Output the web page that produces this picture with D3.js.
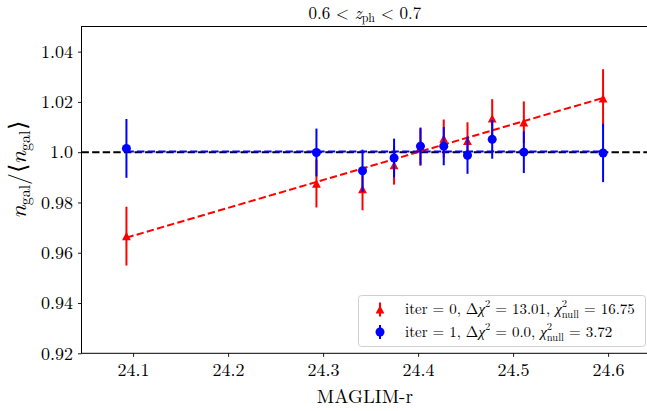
<!DOCTYPE html>
<html>
<head>
<meta charset="utf-8">
<script src="https://cdn.jsdelivr.net/npm/d3@7"></script>
<style>
  body { margin: 0; background: #fff; }
</style>
</head>
<body>
<svg id="chart"></svg>
<script>
// magnitude limit bins
const magVals = [24.093, 24.293, 24.3415, 24.3747, 24.4025, 24.427, 24.452, 24.478, 24.5113, 24.5947];
// iter = 0 (red triangles)
const iter0Vals = [0.9666, 0.9875, 0.9853, 0.9948, 1.0020, 1.0054, 1.0045, 1.0134, 1.0119, 1.0214];
// iter = 1 (blue circles)
const iter1Vals = [1.0015, 0.9999, 0.9926, 0.9977, 1.0024, 1.0024, 0.9988, 1.0051, 1.0000, 0.9997];
const errVals = [0.0117, 0.0095, 0.0084, 0.0077, 0.0074, 0.0076, 0.0074, 0.0077, 0.0083, 0.0116];
// linear fits (end points)
const fit0X = [24.093, 24.5947];
const fit0Y = [0.9660, 1.0216];
const fit1X = [24.093, 24.5947];
const fit1Y = [1.0003, 1.0003];

const xTicks = [24.1, 24.2, 24.3, 24.4, 24.5, 24.6];
const yTicks = [0.92, 0.94, 0.96, 0.98, 1.0, 1.02, 1.04];
const yTickLabels = ["0.92", "0.94", "0.96", "0.98", "1.0", "1.02", "1.04"];

const FONT = '"Latin Modern Roman", "Liberation Serif", serif';
const W = 647, H = 411;
const plot = {left: 81.5, right: 648.2, top: 26.5, bottom: 353.3};

const svg = d3.select("#chart").attr("width", W).attr("height", H)
    .style("font-family", FONT);

const x = d3.scaleLinear().domain([24.0457, 24.6422]).range([plot.left, plot.right]);
const y = d3.scaleLinear().domain([0.92, 1.05]).range([plot.bottom, plot.top]);

const red = "#ff0000", blue = "#0000ff";

const g = svg.append("g");

// reference line at 1
g.append("line")
    .attr("x1", plot.left).attr("x2", plot.right)
    .attr("y1", y(1.0)).attr("y2", y(1.0))
    .attr("stroke", "#000").attr("stroke-width", 2)
    .attr("stroke-dasharray", "7.4,3.2");

function drawSeries(vals, color, marker, fx, fy) {
    const pts = magVals.map((m, i) => ({m, v: vals[i], e: errVals[i]}));

    g.append("line")
        .attr("x1", x(fx[0])).attr("x2", x(fx[1]))
        .attr("y1", y(fy[0])).attr("y2", y(fy[1]))
        .attr("stroke", color).attr("stroke-width", 2)
        .attr("stroke-dasharray", "7.4,3.2");

    g.selectAll(null).data(pts).enter().append("line")
        .attr("x1", d => x(d.m)).attr("x2", d => x(d.m))
        .attr("y1", d => y(d.v - d.e)).attr("y2", d => y(d.v + d.e))
        .attr("stroke", color).attr("stroke-width", 2);

    if (marker === "tri") {
        g.selectAll(null).data(pts).enter().append("path")
            .attr("d", "M0,-4.3L-4.4,4.1L4.4,4.1Z")
            .attr("transform", d => `translate(${x(d.m)},${y(d.v)})`)
            .attr("fill", color);
    } else {
        g.selectAll(null).data(pts).enter().append("circle")
            .attr("cx", d => x(d.m)).attr("cy", d => y(d.v))
            .attr("r", 4.5).attr("fill", color);
    }
}

drawSeries(iter0Vals, red, "tri", fit0X, fit0Y);
drawSeries(iter1Vals, blue, "circle", fit1X, fit1Y);

// axes
const xAxis = svg.append("g")
    .attr("transform", `translate(0,${plot.bottom})`)
    .call(d3.axisBottom(x).tickValues(xTicks).tickSize(3.5).tickPadding(6).tickFormat(d3.format(".1f")));
const yAxis = svg.append("g")
    .attr("transform", `translate(${plot.left},0)`)
    .call(d3.axisLeft(y).tickValues(yTicks).tickSize(3.5).tickPadding(5)
        .tickFormat((d, i) => yTickLabels[i]));
[xAxis, yAxis].forEach(a => {
    a.attr("font-family", null).attr("font-size", null);
    a.select(".domain").remove();
    a.selectAll(".tick line").attr("stroke", "#000").attr("stroke-width", 0.9);
    a.selectAll("text").style("font-size", "18px").style("font-family", FONT);
});

// spines
svg.append("rect")
    .attr("x", plot.left).attr("y", plot.top)
    .attr("width", plot.right - plot.left).attr("height", plot.bottom - plot.top)
    .attr("fill", "none").attr("stroke", "#000").attr("stroke-width", 1);

// title
const title = svg.append("text")
    .attr("x", (plot.left + plot.right) / 2).attr("y", 19)
    .attr("text-anchor", "middle").style("font-size", "17px");
title.append("tspan").text("0.6 < ");
title.append("tspan").style("font-style", "italic").text("z");
title.append("tspan").style("font-size", "12px").attr("dy", 3).text("ph");
title.append("tspan").attr("dy", -3).text(" < 0.7");

// x label
svg.append("text")
    .attr("x", (plot.left + plot.right) / 2).attr("y", 403)
    .attr("text-anchor", "middle").style("font-size", "19px")
    .text("MAGLIM-r");

// y label
const yl = svg.append("text")
    .attr("transform", "translate(26,170) rotate(-90)")
    .attr("text-anchor", "middle").style("font-size", "23.5px");
yl.append("tspan").style("font-style", "italic").text("n");
yl.append("tspan").style("font-size", "16px").attr("dy", 4).text("gal");
yl.append("tspan").attr("dy", -4).text("/\u27E8");
yl.append("tspan").style("font-style", "italic").text("n");
yl.append("tspan").style("font-size", "16px").attr("dy", 4).text("gal");
yl.append("tspan").attr("dy", -4).text("\u27E9");

// legend
const leg = svg.append("g");
leg.append("rect")
    .attr("x", 358.5).attr("y", 295.5).attr("width", 287).attr("height", 51)
    .attr("rx", 3).attr("fill", "#fff").attr("fill-opacity", 0.8)
    .attr("stroke", "#d0d0d0").attr("stroke-width", 1);

const legendRows = [
    {color: red, marker: "tri", iter: "0", dchi: "13.01", chinull: "16.75"},
    {color: blue, marker: "circle", iter: "1", dchi: "0.0", chinull: "3.72"}
];
legendRows.forEach((r, i) => {
    const cy = 309.5 + i * 22.5;
    leg.append("line").attr("x1", 380).attr("x2", 380)
        .attr("y1", cy - 7).attr("y2", cy + 7)
        .attr("stroke", r.color).attr("stroke-width", 2);
    if (r.marker === "tri") {
        leg.append("path").attr("d", "M0,-4.3L-4.4,4.1L4.4,4.1Z")
            .attr("transform", `translate(380,${cy})`).attr("fill", r.color);
    } else {
        leg.append("circle").attr("cx", 380).attr("cy", cy).attr("r", 4.5).attr("fill", r.color);
    }
    const t = leg.append("text").attr("x", 405).attr("y", cy + 4.5).style("font-size", "15px");
    t.append("tspan").text(`iter = ${r.iter}, \u0394`);
    t.append("tspan").style("font-style", "italic").text("\u03C7");
    t.append("tspan").style("font-size", "10.5px").attr("dy", -7).text("2");
    t.append("tspan").attr("dy", 7).text(` = ${r.dchi}, `);
    t.append("tspan").style("font-style", "italic").text("\u03C7");
    t.append("tspan").style("font-size", "10.5px").attr("dy", -7).text("2");
    t.append("tspan").style("font-size", "10.5px").attr("dx", -5.3).attr("dy", 11).text("null");
    t.append("tspan").attr("dy", -4).text(` = ${r.chinull}`);
});
</script>
</body>
</html>
